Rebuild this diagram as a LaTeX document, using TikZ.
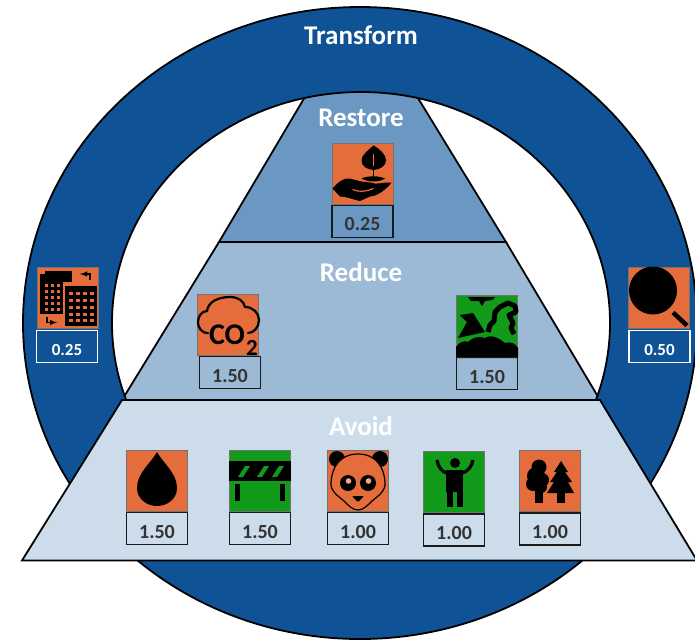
\documentclass[tikz,border=0pt]{standalone}
\usepackage{fontspec}
\setmainfont{Carlito}
\usepackage{xcolor}
\usetikzlibrary{positioning}
\definecolor{ringblue}{HTML}{0F5296}
\definecolor{restoreblue}{HTML}{6B98C2}
\definecolor{reduceblue}{HTML}{9CB9D6}
\definecolor{avoidblue}{HTML}{CCDCEA}
\definecolor{iconorange}{HTML}{E56C3B}
\definecolor{icongreen}{HTML}{129A1A}
\tikzset{
	band/.style={draw=black,line width=1.8pt},
	title/.style={text=white,font=\bfseries\fontsize{27}{27}\selectfont},
	iconbox/.style={draw=black!55,line width=1pt,fill=iconorange,minimum size=61pt,inner sep=0pt},
	greenbox/.style={iconbox,fill=icongreen},
	valbox/.style={draw=black!90,line width=1.4pt,minimum width=61pt,minimum height=32pt,inner sep=0pt,
		text height=19pt,text depth=0pt,text=black!80,font=\bfseries\fontsize{20}{20}\selectfont},
	ringval/.style={valbox,draw=white,text=white,line width=1.2pt,text height=18.5pt,font=\bfseries\fontsize{17}{17}\selectfont},
	drop/.pic={
		\fill (0,-29) .. controls (-6,-18) and (-20,-8) .. (-20,7) .. controls (-20,18) and (-10,25) .. (0,25)
			.. controls (10,25) and (20,18) .. (20,7) .. controls (20,-8) and (6,-18) .. (0,-29) -- cycle;
	},
	barrier/.pic={
		\fill (-31,-20) rectangle (31,0);
		\fill (-25,3) rectangle (-20.5,20);
		\fill (20,3) rectangle (24.5,20);
		\foreach \sx in {-22,-3,12}
			\fill[icongreen] (\sx,-4) -- (\sx+5,-4) -- (\sx+12,-15) -- (\sx+7,-15) -- cycle;
	},
	panda/.pic={
		\fill (-21,-22) circle (8);
		\fill (22,-22) circle (8);
		\draw[line width=1.2pt,fill=iconorange] (0,-27) .. controls (-18,-27) and (-26,-14) .. (-27,1)
			.. controls (-28,10) and (-20,15) .. (-14,20) .. controls (-9,25) and (-5,29) .. (0,29)
			.. controls (5,29) and (9,25) .. (14,20) .. controls (20,15) and (28,10) .. (27,1)
			.. controls (26,-14) and (18,-27) .. (0,-27) -- cycle;
		\foreach \sx in {-10,10} {
			\fill (\sx,2) circle (8);
			\fill[iconorange!60!white] (\sx+.5,0) circle (2.8);
		}
		\fill[rounded corners=1pt] (-6,15) -- (6,15) -- (0,21) -- cycle;
	},
	human/.pic={
		\fill (1,-19) circle (5);
		\fill (-8,-12) rectangle (9,10);
		\fill (-7,10) rectangle (-1,25);
		\fill (3,10) rectangle (9,25);
		\draw[line width=3.2pt] (-7,-9) .. controls (-12,-10) and (-16,-15) .. (-17,-22);
		\draw[line width=3.2pt] (8,-9) .. controls (13,-10) and (18,-15) .. (19,-22);
	},
	trees/.pic={
		\fill (-11,-14) circle (7.5);
		\fill (-14,-5) circle (9);
		\fill (-17,3) circle (7);
		\fill (-8,-1) circle (7);
		\fill (-9,6) circle (6);
		\fill (-15,5) rectangle (-7,22);
		\fill (11,-20) -- (18,-9) -- (15,-9) -- (22,1) -- (18,1) -- (24,12) -- (-3,12) -- (4,1) -- (0,1) -- (7,-9) -- (4,-9) -- cycle;
		\fill (7,12) rectangle (15,22);
	},
	search/.pic={
		\fill (-6,-7) circle (24);
		\draw[line width=4.5pt] (14,15) -- (28,28);
	},
	offices/.pic={
		\fill (-28,-24) rectangle (-5,16);
		\fill (-23,-26.5) rectangle (4,-16);
		\fill (-3,-12) rectangle (29,28);
		\foreach \wx in {-23,-17,-11}
			\foreach \wy in {-14,-8,-2,4,10}
				\fill[iconorange] (\wx,\wy) rectangle +(3,3);
		\foreach \wx in {1,8,15,22}
			\foreach \wy in {-6,1,8,15,21}
				\fill[iconorange] (\wx,\wy) rectangle +(4,3.5);
		\draw[line width=1.4pt,->,>=latex] (22,-17.5) -- (22,-23.5) -- (12,-23.5);
		\draw[line width=1.4pt,->,>=latex] (-21,19) -- (-21,25) -- (-11,25);
	},
	cotwo/.pic={
		\draw[line width=2.2pt,line cap=round] (-20,8) .. controls (-27,8) and (-30,2) .. (-30,-3)
			.. controls (-30,-9) and (-26,-14) .. (-21,-14) .. controls (-20,-23) and (-10,-28) .. (2,-28)
			.. controls (10,-28) and (16,-24) .. (17,-18) .. controls (25,-18) and (31,-12) .. (31,-5)
			.. controls (31,2) and (26,8) .. (20,8);
		\node[font=\bfseries\fontsize{30}{30}\selectfont,inner sep=0pt] (cotext) at (-1,10) {CO};
		\node[font=\bfseries\fontsize{23}{23}\selectfont,inner sep=0pt] (twotext) at (24,23) {2};
	},
	bareland/.pic={
		\fill (-19,-29) -- (8,-29) -- (5,-26) -- (-2,-25) -- (-5,-20) -- (-8,-25) -- (-16,-25) -- cycle;
		\fill (-27,-11) -- (-14,-13) -- (-2,6) -- (-29,12) -- (-20,-4) -- cycle;
		\draw[line width=5pt,line join=round] (1,6) -- (3,-1) -- (7,-5) -- (8,-14) -- (13,-19) -- (21,-23)
			-- (28,-20) -- (29,-14) -- (22,-11) -- (26,-3) -- (24,2) -- (27,8);
		\fill (-31,32) -- (-31,21) .. controls (-28,16) and (-22,14) .. (-19,16)
			.. controls (-14,11) and (-8,10) .. (-2,12) .. controls (4,8) and (12,12) .. (18,17)
			.. controls (24,15) and (29,18) .. (31,22) -- (31,32) -- cycle;
	},
	handleaf/.pic={
		\fill (11,-28) .. controls (4,-22) and (-1,-18) .. (-1,-13) .. controls (-1,-7) and (5,-4) .. (11,-3.5)
			.. controls (18,-4) and (23.5,-8) .. (23.5,-13) .. controls (23.5,-19) and (17,-25) .. (11,-28) -- cycle;
		\draw[iconorange,line width=1pt] (11,-20) -- (11,-8);
		\draw[line width=1.4pt] (11,-5) -- (11,5);
		\fill (-1,5) .. controls (6,2) and (16,2) .. (22.5,5) .. controls (16,9) and (6,9) .. (-1,5) -- cycle;
		\fill (-30,15) .. controls (-24,8) and (-18,4) .. (-12.5,5) .. controls (-6,7) and (2,9) .. (8,9)
			.. controls (14,12) and (22,8) .. (29,9) .. controls (24,16) and (14,23) .. (7.5,23)
			-- (-2.5,27.5) .. controls (-10,26) and (-16,23) .. (-22.5,23) -- cycle;
		\draw[iconorange,line width=1.2pt] (-10,16) .. controls (-4,19) and (4,18) .. (11,15);
	}
}
\begin{document}
\begin{tikzpicture}[x=1pt,y=-1pt]
	\clip (0,0) rectangle (695,641);
	\fill[white] (0,0) rectangle (695,641);

	% pyramid behind the ring
	\draw[band,fill=restoreblue] (219,242) -- (312,85) -- (410,85) -- (506,242) -- cycle;
	\draw[band,fill=reduceblue] (122,400) -- (219,242) -- (506,242) -- (600,400) -- cycle;

	% ring
	\draw[band,fill=ringblue,even odd rule] (360,323) ellipse [x radius=337,y radius=316]
		(361,323) ellipse [x radius=249,y radius=231];

	% bottom layer goes over the ring
	\draw[band,fill=avoidblue] (22,560.5) -- (122,400) -- (600,400) -- (697,560.5) -- cycle;

	\node[title] (transform) at (361,35) {Transform};
	\node[title] (restore) at (361,118) {Restore};
	\node[title] (reduce) at (361,272) {Reduce};
	\node[title] (avoid) at (361,426) {Avoid};

	\node[iconbox] (leaf) at (362.5,173.5) {};
	\node[iconbox] (office) at (68,297.5) {};
	\node[iconbox] (lens) at (659,297.5) {};
	\node[iconbox] (co) at (228,325) {};
	\node[greenbox] (land) at (487,326) {};
	\node[iconbox] (oil) at (157,481) {};
	\node[greenbox] (road) at (260,481) {};
	\node[iconbox] (bear) at (358,481) {};
	\node[greenbox,line width=1.8pt] (man) at (454,482) {};
	\node[iconbox,line width=1.8pt] (wood) at (550,481) {};

	\pic at (leaf) {handleaf};
	\pic at (office) {offices};
	\pic at (lens) {search};
	\pic at (co) {cotwo};
	\pic at (land) {bareland};
	\pic at (oil) {drop};
	\pic at (road) {barrier};
	\pic at (bear) {panda};
	\pic at (man) {human};
	\pic at (wood) {trees};

	\node[valbox,below=0pt of leaf] (leafval) {0.25};
	\node[ringval,below=1pt of office,xshift=-1pt] (officeval) {0.25};
	\node[ringval,below=1pt of lens,xshift=.5pt] (lensval) {0.50};
	\node[valbox,below=0pt of co,xshift=2pt] (coval) {1.50};
	\node[valbox,below=0pt of land] (landval) {1.50};
	\node[valbox,below=0pt of oil] (oilval) {1.50};
	\node[valbox,below=0pt of road] (roadval) {1.50};
	\node[valbox,below=0pt of bear] (bearval) {1.00};
	\node[valbox,below=0pt of man] (manval) {1.00};
	\node[valbox,below=0pt of wood] (woodval) {1.00};
\end{tikzpicture}
\end{document}
